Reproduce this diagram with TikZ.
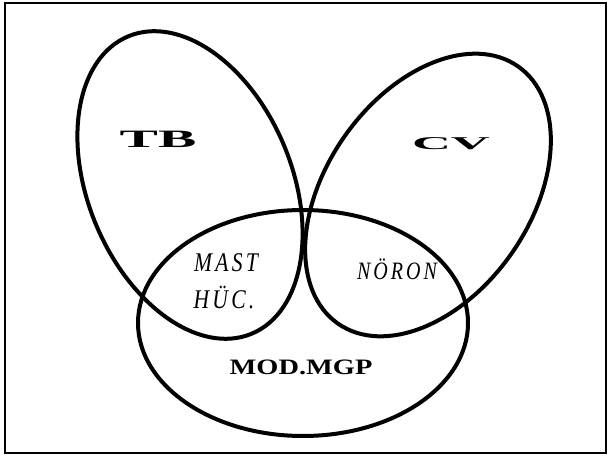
\documentclass[tikz,border=0pt]{standalone}
\usepackage{fontspec}
\setmainfont{Liberation Serif}
\newfontfamily\spacedserif{Liberation Serif}[LetterSpace=15]
\tikzset{
  venn/.style={line width=4pt, black},
  framebox/.style={line width=1.5pt, black},
  heavy/.style={inner sep=0pt, anchor=base, font=\bfseries\fontsize{25}{30}\selectfont},
  mgp/.style={inner sep=0pt, anchor=base, font=\bfseries\fontsize{22}{26}\selectfont, xscale=1.29},
  sub/.style={inner sep=0pt, anchor=base, xscale=0.8, font=\spacedserif\itshape\fontsize{27}{31}\selectfont},
}
\begin{document}
\begin{tikzpicture}[x=1pt,y=1pt]
\useasboundingbox (0,0) rectangle (611,456);
% frame
\draw[framebox] (5,3) rectangle (606,453);
% ellipses
\draw[venn, rotate around={112.5:(190,271)}] (190,271) ellipse [x radius=161pt, y radius=102pt];
\draw[venn, rotate around={55:(428,261)}] (428,261) ellipse [x radius=157pt, y radius=102pt];
\draw[venn] (303,133) ellipse [x radius=165pt, y radius=113pt];
% labels
\node[heavy, xscale=2.3] (tb) at (158,308) {TB};
\node[heavy, font=\bfseries\fontsize{18}{22}\selectfont, xscale=3.0] (cv) at (451,306) {CV};
\node[sub] (mast) at (226,185) {MAST};
\node[sub] (huc) at (224,148) {HÜC.};
\node[sub, font=\spacedserif\itshape\fontsize{25}{29}\selectfont] (noron) at (397,176) {NÖRON};
\node[mgp] (mod) at (301,82) {MOD.MGP};
\end{tikzpicture}
\end{document}
